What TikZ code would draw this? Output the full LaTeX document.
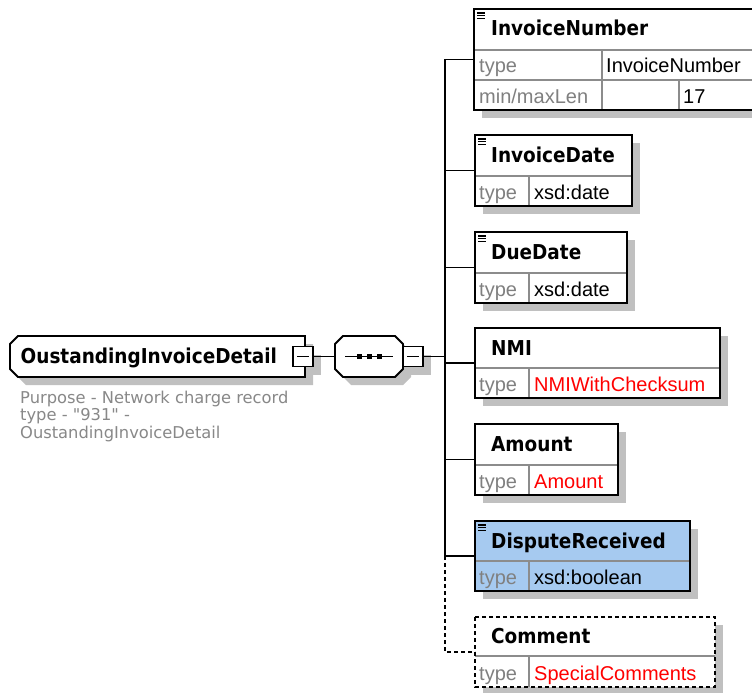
\documentclass[tikz,border=0pt]{standalone}
\usepackage{fontspec}
\setmainfont{Liberation Sans}
\newfontfamily\hdfont{DejaVu Sans}[FakeStretch=0.9]
\newfontfamily\descfont{DejaVu Sans}
\pgfdeclarelayer{paperlayer}
\pgfdeclarelayer{shadowlayer}
\pgfsetlayers{paperlayer,shadowlayer,main}
\definecolor{shadowc}{HTML}{C0C0C0}
\definecolor{gridc}{HTML}{8C8C8C}
\definecolor{typec}{HTML}{808080}
\definecolor{selc}{HTML}{A6CAF0}
\definecolor{refc}{HTML}{FF0000}
\definecolor{descc}{HTML}{888888}
\tikzset{
  elfill/.style={anchor=north west, inner sep=0pt, outer sep=0pt, draw=none},
  border/.style={draw=black, line width=1.9pt},
  innerline/.style={draw=gridc, line width=1.3pt},
  conn/.style={draw=black, line width=1.8pt},
  dashconn/.style={conn, dash pattern=on 4pt off 3pt},
  hd/.style={anchor=base west, inner sep=0pt, font=\hdfont\bfseries\fontsize{20.5}{24}\selectfont},
  tp/.style={anchor=base west, inner sep=0pt, text=typec, font=\fontsize{20}{24}\selectfont},
  val/.style={anchor=base west, inner sep=0pt, font=\fontsize{20}{24}\selectfont},
  refv/.style={val, text=refc},
  desc/.style={anchor=base west, inner sep=0pt, text=descc, font=\descfont\fontsize{16.3}{18}\selectfont},
  iconline/.style={draw=black, line width=1.3pt},
  minusbox/.style={draw=black, line width=1.9pt, fill=white, minimum size=20pt, inner sep=0pt, outer sep=0pt},
  invis/.style={inner sep=0pt, outer sep=0pt, draw=none},
}
\newcommand\elem[9]{%
  \node[elfill, fill=#9, minimum width={#4-#2}, minimum height={#5-#3}] (#1) at (#2,#3) {};
  \draw[innerline] (#2,#6) -- (#4,#6);
  \draw[innerline] (#7,#6) -- (#7,#5);
  \draw[border,#8] (#1.north west) rectangle (#1.south east);
  \begin{pgfonlayer}{shadowlayer}
    \fill[shadowc] ([shift={(8,8)}]#1.north west) rectangle ([shift={(8,8)}]#1.south east);
  \end{pgfonlayer}}
\newcommand\elicon[1]{%
  \draw[iconline] ([shift={(3,4)}]#1.north west) -- ++(8,0)
                  ([shift={(3,6.7)}]#1.north west) -- ++(8,0)
                  ([shift={(3,9.4)}]#1.north west) -- ++(8,0);}
\begin{document}
\begin{tikzpicture}[x=1pt,y=-1pt]
\useasboundingbox (0,0) rectangle (752,693);
\begin{pgfonlayer}{paperlayer}
  \fill[white] (0,0) rectangle (752,693);
\end{pgfonlayer}
\clip (0,0) rectangle (752,693);

% ---------- root element ----------
\node[invis, minimum width=295, minimum height=41, anchor=north west] (root) at (10,336) {};
\begin{pgfonlayer}{shadowlayer}
  \fill[shadowc] (26,344) -- (313,344) -- (313,385) -- (26,385) -- (18,377) -- (18,352) -- cycle;
\end{pgfonlayer}
\draw[border, fill=white] (18,336) -- (305,336) -- (305,377) -- (18,377) -- (10,369) -- (10,344) -- cycle;
\node[hd] (roottitle) at (20.5,363) {OustandingInvoiceDetail};
\node[desc] (desc1) at (20,403) {Purpose - Network charge record};
\node[desc] (desc2) at (20,420.5) {type - "931" -};
\node[desc] (desc3) at (20,438) {OustandingInvoiceDetail};

% ---------- minus box 1 ----------
\node[minusbox] (minus1) at (303,356.5) {};
\draw[line width=1.4pt] ([xshift=4]minus1.west) -- ([xshift=-4]minus1.east);
\begin{pgfonlayer}{shadowlayer}
  \fill[shadowc] ([shift={(8,8)}]minus1.north west) rectangle ([shift={(8,8)}]minus1.south east);
\end{pgfonlayer}

% ---------- sequence compositor ----------
\node[invis, minimum width=68, minimum height=41] (comp) at (369,356.5) {};
\begin{pgfonlayer}{shadowlayer}
  \fill[shadowc] (351,344) -- (403,344) -- (411,352) -- (411,377) -- (403,385) -- (351,385) -- (343,377) -- (343,352) -- cycle;
\end{pgfonlayer}
\draw[border, fill=white] (343,336) -- (395,336) -- (403,344) -- (403,369) -- (395,377) -- (343,377) -- (335,369) -- (335,344) -- cycle;
\draw[line width=1.4pt] (345,356.5) -- (393,356.5);
\fill (356.7,353.7) rectangle (362.3,359.3);
\fill (366.7,353.7) rectangle (372.3,359.3);
\fill (376.7,353.7) rectangle (382.3,359.3);

\node[minusbox] (minus2) at (413,356.5) {};
\draw[line width=1.4pt] ([xshift=4]minus2.west) -- ([xshift=-4]minus2.east);
\begin{pgfonlayer}{shadowlayer}
  \fill[shadowc] ([shift={(8,8)}]minus2.north west) rectangle ([shift={(8,8)}]minus2.south east);
\end{pgfonlayer}

% ---------- connectors ----------
\coordinate (bus) at (445,356.5);
\draw[conn] (minus1.east) -- (comp.west);
\draw[conn] (minus2.east) -- (bus);

% ---------- child elements ----------
% InvoiceNumber (cut off at right edge)
\node[elfill, fill=white, minimum width=278, minimum height=101] (invnum) at (474,9) {};
\begin{pgfonlayer}{shadowlayer}
  \fill[shadowc] (482,17) rectangle (752,118);
\end{pgfonlayer}
\draw[innerline] (474,50) -- (752,50);
\draw[innerline] (474,80) -- (752,80);
\draw[innerline] (602,50) -- (602,110);
\draw[innerline] (679,80) -- (679,110);
\draw[border] (752,9) -- (474,9) -- (474,110) -- (752,110);
\elicon{invnum}
\node[hd] (invnum-h) at (491,35.5) {InvoiceNumber};
\node[tp] (invnum-t) at (479,73) {type};
\node[val] (invnum-v) at (606,73) {InvoiceNumber};
\node[tp] (invnum-m) at (479,103) {min/maxLen};
\node[val] (invnum-l) at (683,103) {17};

\elem{invdate}{475}{135}{632}{206}{176}{529}{solid}{white}
\elicon{invdate}
\node[hd] (invdate-h) at (491,162.5) {InvoiceDate};
\node[tp] (invdate-t) at (479,199) {type};
\node[val] (invdate-v) at (534,199) {xsd:date};

\elem{duedate}{475}{232}{627}{303}{273}{529}{solid}{white}
\elicon{duedate}
\node[hd] (duedate-h) at (491,259.5) {DueDate};
\node[tp] (duedate-t) at (479,296) {type};
\node[val] (duedate-v) at (534,296) {xsd:date};

\elem{nmi}{475}{328}{720}{398}{368}{529}{solid}{white}
\node[hd] (nmi-h) at (491,355) {NMI};
\node[tp] (nmi-t) at (479,391) {type};
\node[refv] (nmi-v) at (534,391) {NMIWithChecksum};

\elem{amount}{475}{424}{618}{495}{465}{529}{solid}{white}
\node[hd] (amount-h) at (491,451.5) {Amount};
\node[tp] (amount-t) at (479,488) {type};
\node[refv] (amount-v) at (534,488) {Amount};

\elem{dispute}{475}{521}{690}{591}{561}{529}{solid}{selc}
\elicon{dispute}
\node[hd] (dispute-h) at (491,548) {DisputeReceived};
\node[tp] (dispute-t) at (479,584) {type};
\node[val] (dispute-v) at (534,584) {xsd:boolean};

\elem{comment}{475}{617}{715}{687}{656}{529}{dash pattern=on 4pt off 3pt}{white}
\node[hd] (comment-h) at (491,643.5) {Comment};
\node[tp] (comment-t) at (479,680) {type};
\node[refv] (comment-v) at (534,680) {SpecialComments};

% ---------- element connectors ----------
\draw[conn] (bus |- invnum.west) -- (bus |- dispute.west);
\foreach \c in {invnum,invdate,duedate,nmi,amount,dispute}{
  \draw[conn] (bus |- \c.west) -- (\c.west);
}
\draw[dashconn] (bus |- dispute.west) -- (bus |- comment.west) -- (comment.west);
\end{tikzpicture}
\end{document}
